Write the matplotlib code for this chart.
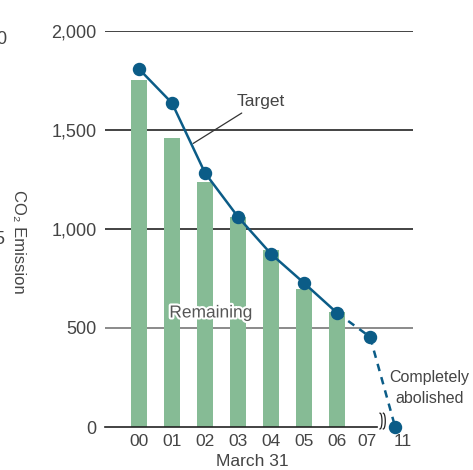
import numpy as np
import matplotlib
matplotlib.use("Agg")
import matplotlib.pyplot as plt
import matplotlib.patheffects as pe

plt.rcParams['font.family'] = ['Liberation Sans', 'DejaVu Sans']

# data
years = ['00', '01', '02', '03', '04', '05', '06', '07', '11']
x_pos = [0, 1, 2, 3, 4, 5, 6, 7, 7.76]
label_pos = [0, 1, 2, 3, 4, 5, 6, 6.9, 8.0]
remaining = [1752, 1460, 1237, 1061, 894, 697, 581]
target = [1808, 1636, 1283, 1061, 874, 727, 576, 455, 0]
yticks = [0, 500, 1000, 1500, 2000]
ytick_labels = ['0', '500', '1,000', '1,500', '2,000']

bar_color = '#86bb95'
line_color = '#0b5c87'
text_color = '#444444'

W, H = 473, 470
fig = plt.figure(figsize=(W / 100, H / 100), dpi=100)
ax = fig.add_axes([105 / W, (H - 427) / H, (413 - 105) / W, (427 - 31) / H])
ax.set_xlim(-1.03, 8.3)
ax.set_ylim(0, 2000)
for s in ax.spines.values():
    s.set_visible(False)

# gridlines (behind bars)
for v in yticks[1:]:
    ax.axhline(v, color='#777777' if v == 500 else '#222222', lw=1.2, zorder=1)
# bottom axis line up to the break
ax.plot([-1.03, 7.2], [0, 0], color='#222222', lw=1.2, zorder=3, clip_on=False)

ax.bar(x_pos[:len(remaining)], remaining, width=0.48, color=bar_color, zorder=2)

# target line: solid to 06, dashed after
ax.plot(x_pos[:7], target[:7], color=line_color, lw=1.8, zorder=4)
ax.plot(x_pos[6:], target[6:], color=line_color, lw=1.8, ls=(0, (3, 2.5)), zorder=4,
        clip_on=False)
ax.scatter(x_pos, target, s=75, color=line_color, zorder=5, clip_on=False)

# break marks
t = np.linspace(-1, 1, 30)
for dx in (7.3, 7.4):
    ax.plot(dx + 0.06 * (1 - t ** 2) ** 0.5, 30 + 40 * t,
            color='#222222', lw=0.9, clip_on=False, zorder=6)

# ticks
ax.set_yticks(yticks)
ax.set_yticklabels(ytick_labels)
ax.set_xticks(label_pos)
ax.set_xticklabels(years)
ax.tick_params(axis='y', length=0, pad=6, labelsize=13, labelcolor=text_color)
ax.tick_params(axis='x', length=0, pad=5, labelsize=12.5, labelcolor=text_color)

fig.text(252 / W, 1 - 461 / H, 'March 31', ha='center', va='center',
         fontsize=12.5, color=text_color)
fig.text(18 / W, 1 - 242 / H, 'CO₂ Emission', ha='center', va='center',
         rotation=270, fontsize=12, color=text_color)

# remnants of the neighbouring chart at the left edge
fig.text(-4 / W, 1 - 40 / H, '0', ha='left', va='center', fontsize=13, color=text_color)
fig.text(-6 / W, 1 - 240 / H, '5', ha='left', va='center', fontsize=13, color=text_color)

# annotations
ax.annotate('Target', xy=(1.64, 1432), xytext=(2.95, 1645), ha='left', va='center',
            fontsize=12.5, color=text_color,
            arrowprops=dict(arrowstyle='-', color='#333333', lw=0.9,
                            shrinkA=2, shrinkB=0))
ax.text(2.18, 576, 'Remaining', ha='center', va='center', fontsize=12.5,
        color='#555555', zorder=7,
        path_effects=[pe.withStroke(linewidth=3, foreground='white')])
ax.text(8.8, 197, 'Completely\nabolished', ha='center', va='center',
        fontsize=11.5, color=text_color, linespacing=1.5, clip_on=False)

fig.savefig('out.png', dpi=100)
